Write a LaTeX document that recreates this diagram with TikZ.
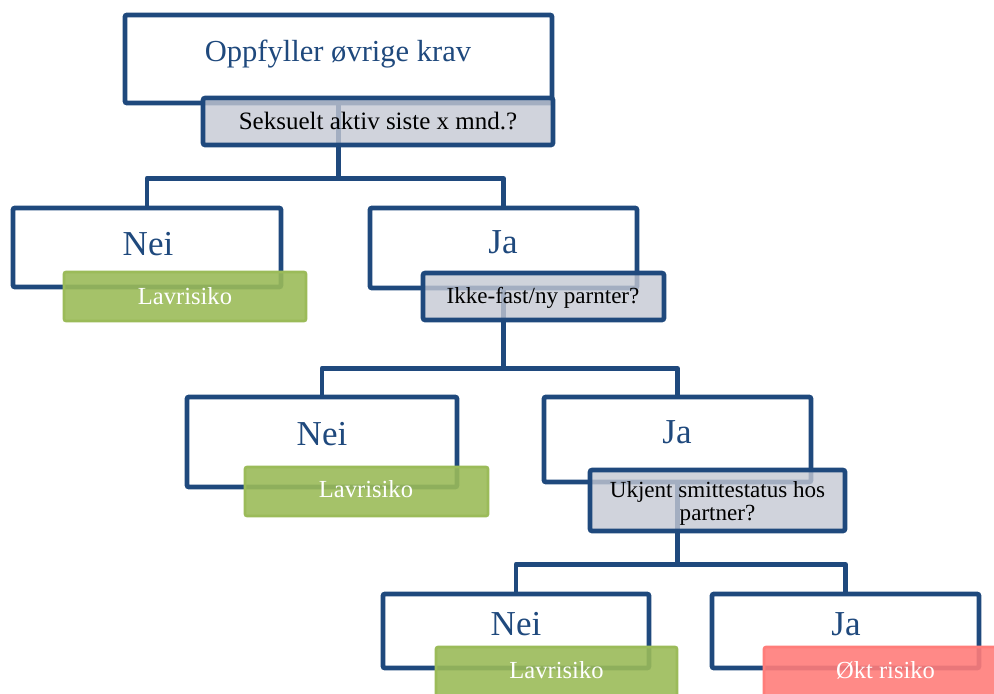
\documentclass[tikz,border=0pt]{standalone}
\usepackage{fontspec}
\setmainfont{Liberation Serif}
\usetikzlibrary{fit}
\definecolor{dblue}{RGB}{31,73,125}
\definecolor{qgray}{RGB}{196,200,211}
\definecolor{lgreen}{RGB}{155,187,89}
\definecolor{lred}{RGB}{255,125,122}
\tikzset{
  wbox/.style={draw=dblue, line width=3.6pt, fill=white, rounded corners=1.5pt, inner sep=0pt},
  qbox/.style={draw=dblue, line width=3.4pt, fill=qgray, fill opacity=0.8, rounded corners=1.5pt, inner sep=0pt},
  gbox/.style={draw=lgreen, line width=2pt, fill=lgreen, fill opacity=0.9, rounded corners=1.5pt, inner sep=0pt},
  rbox/.style={draw=lred, line width=2pt, fill=lred, fill opacity=0.9, rounded corners=1.5pt, inner sep=0pt},
  conn/.style={draw=dblue, line width=3.6pt, line join=round},
  bigtxt/.style={text=dblue, font=\fontsize{26.25}{26.25}\selectfont, anchor=base, inner sep=0pt},
  ttltxt/.style={text=dblue, font=\fontsize{22.9}{22.9}\selectfont, anchor=base, inner sep=0pt},
  qtxt/.style={text=black, font=\fontsize{17.3}{17.3}\selectfont, anchor=base, inner sep=0pt, align=center},
  q1txt/.style={text=black, font=\fontsize{18.75}{18.75}\selectfont, anchor=base, inner sep=0pt},
  restxt/.style={text=white, font=\fontsize{18.4}{18.4}\selectfont, anchor=base, inner sep=0pt},
}
\begin{document}
\begin{tikzpicture}[x=0.75pt,y=-0.75pt]
\useasboundingbox (0,0) rectangle (994,693);
\clip (0,0) rectangle (994,693);
% white boxes
\node[wbox, fit={(125,15) (552,103)}] (top) {};
\node[wbox, fit={(13,208) (281,287)}] (n1) {};
\node[wbox, fit={(370,208) (637,288)}] (j1) {};
\node[wbox, fit={(187,397) (457,487)}] (n2) {};
\node[wbox, fit={(544,397) (811,482)}] (j2) {};
\node[wbox, fit={(383,594) (649,668)}] (n3) {};
\node[wbox, fit={(712,594) (979,668)}] (j3) {};
% connectors
\draw[conn] (top.south) -- ++(0,73) coordinate (k1) -| (n1.north);
\draw[conn] (k1) -| (j1.north);
\draw[conn] (j1.south) -- ++(0,78) coordinate (k2) -| (n2.north);
\draw[conn] (k2) -| (j2.north);
\draw[conn] (j2.south) -- ++(0,80) coordinate (k3) -| (n3.north);
\draw[conn] (k3) -| (j3.north);
% overlay boxes
\node[qbox, fit={(203,98) (553,145)}] (q1) {};
\node[qbox, fit={(423,273) (664,320)}] (q2) {};
\node[qbox, fit={(590,470) (845,531)}] (q3) {};
\node[gbox, fit={(64,272) (306,321)}] (g1) {};
\node[gbox, fit={(245,467) (488,516)}] (g2) {};
\node[gbox, fit={(436,647) (677,720)}] (g3) {};
\node[rbox, fit={(764,647) (1010,720)}] (r3) {};
% texts
\node[ttltxt] (ttop) at (338,61) {Oppfyller øvrige krav};
\node[q1txt] (tq1) at (378,129) {Seksuelt aktiv siste x mnd.?};
\node[bigtxt] (tn1) at (148,255) {Nei};
\node[bigtxt] (tj1) at (503,253) {Ja};
\node[restxt] (tg1) at (185,304) {Lavrisiko};
\node[qtxt] (tq2) at (543,303) {Ikke-fast/ny parnter?};
\node[bigtxt] (tn2) at (322,445) {Nei};
\node[bigtxt] (tj2) at (677,443) {Ja};
\node[restxt] (tg2) at (366,497) {Lavrisiko};
\node[qtxt, anchor=base] (tq3) at (717.5,497) {Ukjent smittestatus hos};
\node[qtxt, anchor=base] (tq3b) at (717.5,520) {partner?};
\node[bigtxt] (tn3) at (516,635) {Nei};
\node[bigtxt] (tj3) at (846,635) {Ja};
\node[restxt] (tg3) at (556.5,678) {Lavrisiko};
\node[restxt] (tr3) at (885.5,678) {Økt risiko};
\end{tikzpicture}
\end{document}
